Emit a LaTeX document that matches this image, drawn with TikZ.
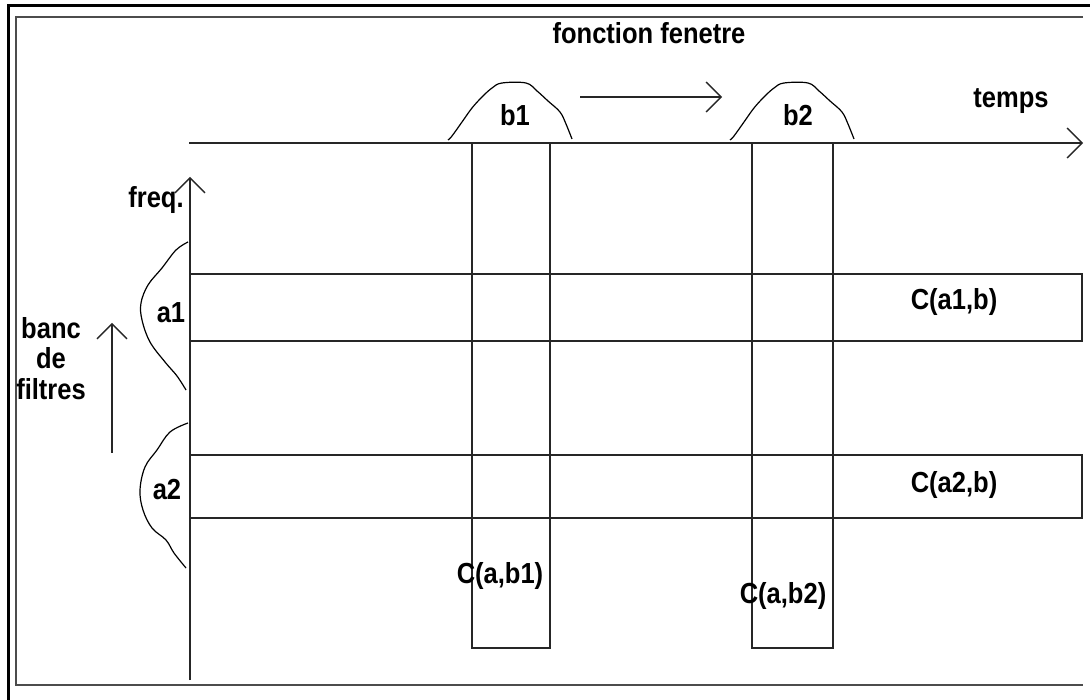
\documentclass[tikz,border=0pt]{standalone}
\usepackage{fontspec}
\setmainfont{Liberation Sans}[FakeStretch=0.88]
\usetikzlibrary{arrows.meta}
\tikzset{
  lbl/.style={font=\bfseries\fontsize{29}{31}\selectfont, inner sep=0pt, anchor=base},
  ln/.style={line width=1.6pt, black!85},
  frameline/.style={line width=2.6pt, black!70},
  outerline/.style={line width=3pt, black},
  bump/.style={line width=1.2pt, black},
  barb/.style={-{Straight Barb[length=15pt,width=30pt,line width=1.4pt]}, line width=1.6pt, black!85},
}
\begin{document}
\begin{tikzpicture}[x=1pt,y=-1pt]
\useasboundingbox (0,0) rectangle (1090,700);
\fill[white] (0,0) rectangle (1090,700);
% outer black border (top and left visible)
\draw[outerline] (8,700) -- (8,6) -- (1090,6);
% inner grey frame
\draw[frameline] (1083,17) -- (16,17) -- (16,685) -- (1083,685);

% named coordinates
\coordinate (tA) at (189,143);
\coordinate (tB) at (1083,143);
\coordinate (fA) at (190,680);
\coordinate (fB) at (190,177);
\coordinate (mA) at (580,97);
\coordinate (mB) at (722,97);
\coordinate (kA) at (112,453);
\coordinate (kB) at (112,323);

% axes
\draw[barb] (tA) -- (tB);
\draw[barb] (fA) -- (fB);
\draw[barb] (mA) -- (mB);
\draw[barb] (kA) -- (kB);

% filter rows
\draw[ln] (190,274) -- (1082,274) -- (1082,341) -- (190,341);
\draw[ln] (190,455) -- (1082,455) -- (1082,518) -- (190,518);
% time columns
\draw[ln] (472,143) -- (472,648) -- (550,648) -- (550,143);
\draw[ln] (752,143) -- (752,648) -- (833,648) -- (833,143);

% window bumps
\draw[bump] plot[smooth, tension=0.6] coordinates {(448,140) (452,136) (462,122) (472,108) (482,97) (492,88) (502,83) (526,83) (537,91) (548,101) (560,112) (566,124) (572,139)};
\begin{scope}[xshift=282pt]
\draw[bump] plot[smooth, tension=0.6] coordinates {(448,140) (452,136) (462,122) (472,108) (482,97) (492,88) (502,83) (526,83) (537,91) (548,101) (560,112) (566,124) (572,139)};
\end{scope}
% filter bumps
\draw[bump] plot[smooth, tension=0.6] coordinates {(188,242) (176,250) (162,268) (148,285) (141,303) (142,320) (150,342) (165,362) (177,376) (186,390)};
\draw[bump] plot[smooth, tension=0.6] coordinates {(188,423) (170,432) (157,450) (145,467) (140,490) (143,510) (152,528) (166,540) (174,553) (186,568)};

% labels
\node[lbl] (ff) at (649,44) {fonction fenetre};
\node[lbl] (b1) at (515,126) {b1};
\node[lbl] (b2) at (798,126) {b2};
\node[lbl] (temps) at (1011,108) {temps};
\node[lbl] (freq) at (156,208) {freq.};
\node[lbl] (a1) at (171,323) {a1};
\node[lbl] (a2) at (167,500) {a2};
\node[lbl, align=center] (banc) at (51,400) {banc\\de\\filtres};
\node[lbl] (ca1) at (954,310) {C(a1,b)};
\node[lbl] (ca2) at (954,493) {C(a2,b)};
\node[lbl] (cb1) at (500,583) {C(a,b1)};
\node[lbl] (cb2) at (783,603) {C(a,b2)};
\end{tikzpicture}
\end{document}
